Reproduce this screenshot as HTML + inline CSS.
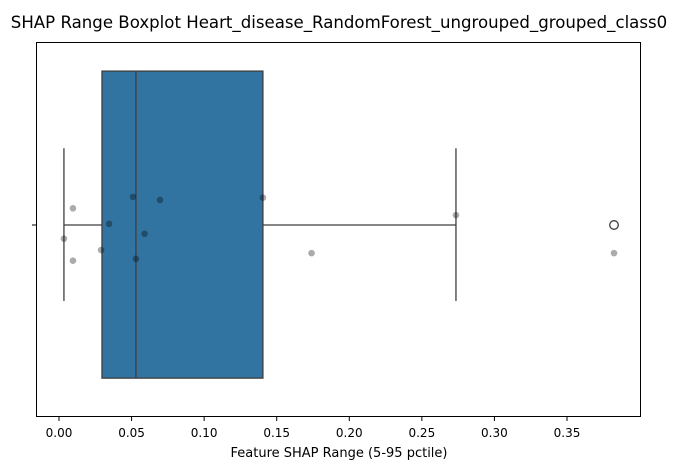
<!DOCTYPE html>
<html><head><meta charset="utf-8"><style>
body{margin:0;background:#fff;}
svg text{font-family:"DejaVu Sans","Liberation Sans",sans-serif;}
</style></head><body>
<svg id="chart" width="677" height="470" viewBox="0 0 677 470" xmlns="http://www.w3.org/2000/svg">
<text x="339" y="28" font-size="16.6" text-anchor="middle" fill="#000">SHAP Range Boxplot Heart_disease_RandomForest_ungrouped_grouped_class0</text>
<g id="plot"></g>
<rect x="36.5" y="42.5" width="604" height="374" fill="none" stroke="#000" stroke-width="1"/>
<text x="339" y="457" font-size="13" text-anchor="middle" fill="#000">Feature SHAP Range (5-95 pctile)</text>
</svg>
<script>
const tickValues = [0, 0.05, 0.10, 0.15, 0.20, 0.25, 0.30, 0.35];
const tickLabels = ["0.00","0.05","0.10","0.15","0.20","0.25","0.30","0.35"];
const boxStats = [0.0034, 0.0296, 0.053, 0.1405, 0.2735]; // whiskerLow, q1, median, q3, whiskerHigh
const outliers = [0.3824];
const pointValues = [0.0034, 0.0096, 0.0096, 0.029, 0.0345, 0.051, 0.053, 0.059, 0.0696, 0.1405, 0.174, 0.2735, 0.3824];
const pointJitter = [0.036, -0.044, 0.094, 0.066, -0.003, -0.074, 0.089, 0.023, -0.066, -0.072, 0.074, -0.026, 0.074];

const NS = "http://www.w3.org/2000/svg";
const g = document.getElementById('plot');
function xs(v){ return 59 + v * 1451.4; }
function ys(j){ return 225 + j * 380; }
function add(tag, attrs){ const e = document.createElementNS(NS, tag); for (const k in attrs) e.setAttribute(k, attrs[k]); g.appendChild(e); return e; }

tickValues.forEach((v, i) => {
  const t = add('line', {x1: xs(v), x2: xs(v), y1: 416.5, y2: 421, stroke: '#000'});
  
  
  const l = add('text', {x: xs(v), y: 437, 'font-size': 12, 'text-anchor': 'middle', fill: '#000'});
  l.textContent = tickLabels[i];
  
  
});
const yt = add('line', {x1: 32, x2: 36.5, y1: 225, y2: 225, stroke: '#000'});



const [wl, q1, md, q3, wh] = boxStats;
const boxTop = ys(-0.405), boxBot = ys(0.403), capTop = ys(-0.202), capBot = ys(0.2);
[[wl, q1], [q3, wh]].forEach(([a, b]) => {
  const w = add('line', {x1: xs(a), x2: xs(b), y1: 225, y2: 225, stroke: '#3f3f3f', 'stroke-width': 1.3});
  
  
});
[wl, wh].forEach(v => {
  const c = add('line', {x1: xs(v), x2: xs(v), y1: capTop, y2: capBot, stroke: '#3f3f3f', 'stroke-width': 1.3});
  
  
});
const box = add('rect', {x: xs(q1), y: boxTop, width: xs(q3) - xs(q1), height: boxBot - boxTop, fill: '#3274a1', stroke: '#3f3f3f', 'stroke-width': 1.3});


const med = add('line', {x1: xs(md), x2: xs(md), y1: boxTop, y2: boxBot, stroke: '#3f3f3f', 'stroke-width': 1.3});


outliers.forEach(v => {
  const o = add('circle', {cx: xs(v), cy: 225, r: 4.3, fill: 'none', stroke: '#3f3f3f', 'stroke-width': 1.3});
  
  
});
pointValues.forEach((v, i) => {
  const p = add('circle', {cx: xs(v), cy: ys(pointJitter[i]), r: 3.3, fill: '#000', 'fill-opacity': 0.33});
  
  
});
</script>
</body></html>
